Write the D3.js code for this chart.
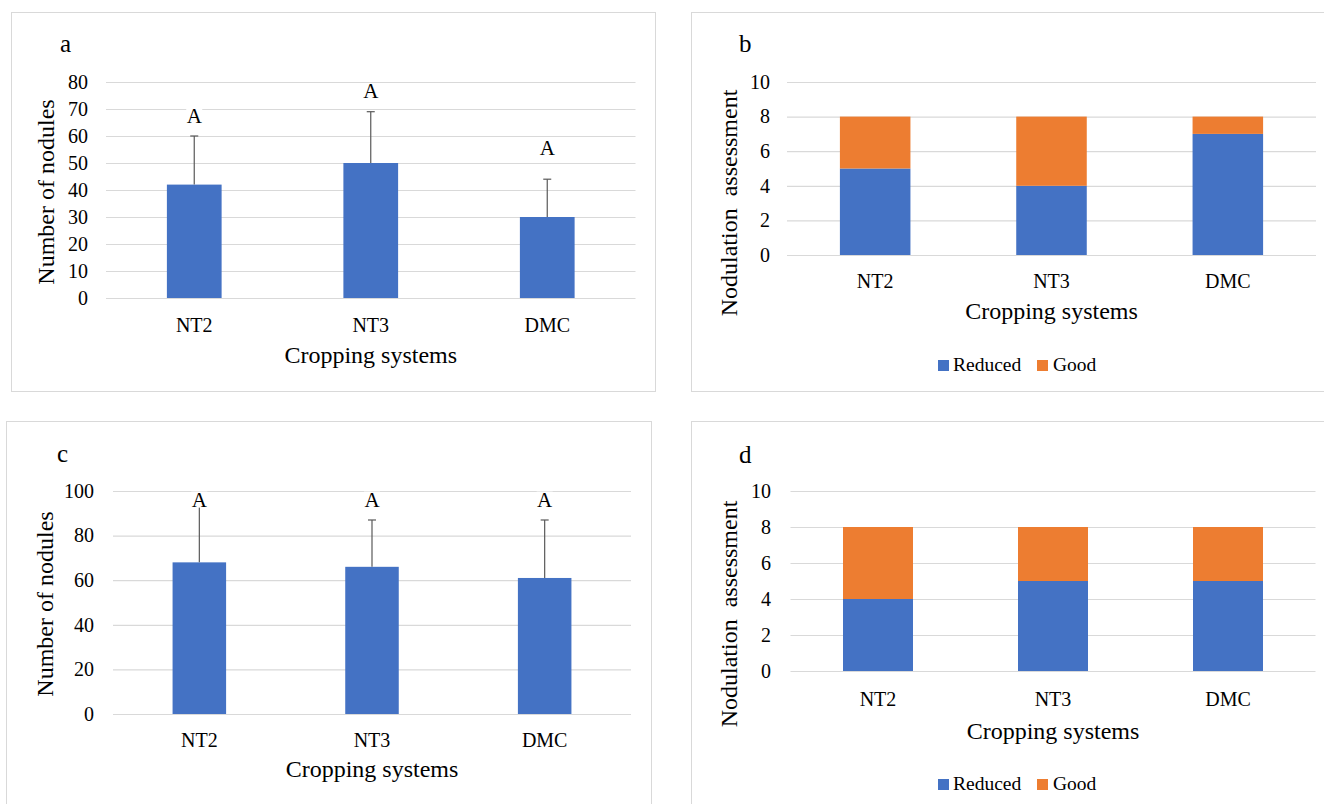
<!DOCTYPE html>
<html>
<head>
<meta charset="utf-8">
<script src="https://cdn.jsdelivr.net/npm/d3@7"></script>
<style>
    body { margin: 0; background: #fff; }
    svg { display: block; }
    svg text { font-family: "Liberation Serif", "DejaVu Serif", serif; fill: #000; }
</style>
</head>
<body>
<svg width="1324" height="804"></svg>
<script>
// Data
const categories = ["NT2", "NT3", "DMC"];

// a: number of nodules (first season)
const nodulesA = [42, 50, 30];
const errorA = [18, 19, 14];
const lettersA = ["A", "A", "A"];
const letterAtA = [65, 74, 53];
const ticksA = [0, 10, 20, 30, 40, 50, 60, 70, 80];

// b: nodulation assessment (first season)
const reducedB = [5, 4, 7];
const goodB = [3, 4, 1];
const ticksB = [0, 2, 4, 6, 8, 10];

// c: number of nodules (second season)
const nodulesC = [68, 66, 61];
const errorC = [26, 21, 26];
const lettersC = ["A", "A", "A"];
const letterAtC = [93, 93, 93];
const ticksC = [0, 20, 40, 60, 80, 100];

// d: nodulation assessment (second season)
const reducedD = [4, 5, 5];
const goodD = [4, 3, 3];
const ticksD = [0, 2, 4, 6, 8, 10];

const blue = "#4472c4";
const orange = "#ed7d31";
const grid = "#d9d9d9";
const serif = "Liberation Serif, DejaVu Serif, serif";

const svg = d3.select("svg").attr("font-family", serif);

// Panel frames
const frames = [
    [11, 12, 644, 379],
    [691, 12, 700, 379],
    [6, 421, 645, 420],
    [691, 421, 700, 420]
];
svg.selectAll("rect.frame")
    .data(frames)
    .enter()
    .append("rect")
    .attr("class", "frame")
    .attr("x", d => d[0] + 0.5)
    .attr("y", d => d[1] + 0.5)
    .attr("width", d => d[2])
    .attr("height", d => d[3])
    .attr("fill", "none")
    .attr("stroke", grid);

// Common axes + labels for one panel
const drawFrame = (p) => {
    const g = svg.append("g").attr("font-family", serif);
    const x = d3.scaleBand().domain(categories).range([p.left, p.right]);
    const y = d3.scaleLinear().domain([0, p.max]).range([p.bottom, p.top]);

    // gridlines
    g.append("g")
        .attr("transform", `translate(${p.left},0)`)
        .call(d3.axisLeft(y).tickValues(p.ticks).tickSize(-(p.right - p.left)).tickFormat(""))
        .call(a => a.select(".domain").remove())
        .call(a => a.selectAll("line").attr("stroke", grid).attr("stroke-width", 1.2));

    // y tick labels
    g.selectAll("text.ytick")
        .data(p.ticks)
        .enter()
        .append("text")
        .attr("x", p.tickRight)
        .attr("y", d => y(d))
        .attr("dy", "0.34em")
        .attr("text-anchor", "end")
        .attr("font-size", 20)
        .text(d => d);

    // x tick labels
    g.selectAll("text.xtick")
        .data(categories)
        .enter()
        .append("text")
        .attr("x", d => x(d) + x.bandwidth() / 2)
        .attr("y", p.xTickY)
        .attr("text-anchor", "middle")
        .attr("font-size", 20)
        .text(d => d);

    g.append("text")
        .attr("x", (p.left + p.right) / 2)
        .attr("y", p.xTitleY)
        .attr("text-anchor", "middle")
        .attr("font-size", 24)
        .text("Cropping systems");

    g.append("text")
        .attr("transform", `translate(${p.yTitleX},${p.yTitleY}) rotate(-90)`)
        .attr("text-anchor", "middle")
        .attr("font-size", 24)
        .attr("xml:space", "preserve")
        .style("white-space", "pre")
        .text(p.yTitle);

    g.append("text")
        .attr("x", p.letterX)
        .attr("y", p.letterY)
        .attr("font-size", 25)
        .text(p.letter);

    return { g, x, y };
};

const drawMeans = (p, means, errs, letters, letterAt) => {
    const { g, x, y } = drawFrame(p);
    const w = x.step() * p.barRatio;
    const cx = d => x(d) + x.bandwidth() / 2;

    g.selectAll("rect.bar")
        .data(categories)
        .enter()
        .append("rect")
        .attr("x", d => cx(d) - w / 2)
        .attr("y", (d, i) => y(means[i]))
        .attr("width", w)
        .attr("height", (d, i) => y(0) - y(means[i]))
        .attr("fill", blue);

    const eb = g.selectAll("g.err")
        .data(categories)
        .enter()
        .append("g")
        .attr("stroke", "#595959")
        .attr("stroke-width", 1.2);
    eb.append("line")
        .attr("x1", d => cx(d)).attr("x2", d => cx(d))
        .attr("y1", (d, i) => y(means[i]))
        .attr("y2", (d, i) => y(means[i] + errs[i]));
    eb.append("line")
        .attr("x1", d => cx(d) - 4).attr("x2", d => cx(d) + 4)
        .attr("y1", (d, i) => y(means[i] + errs[i]))
        .attr("y2", (d, i) => y(means[i] + errs[i]));

    // significance letters with white label background
    g.selectAll("rect.lbg")
        .data(categories)
        .enter()
        .append("rect")
        .attr("x", d => cx(d) - 8)
        .attr("y", (d, i) => y(letterAt[i]) - 15)
        .attr("width", 16)
        .attr("height", 16)
        .attr("fill", "#fff");
    g.selectAll("text.letter")
        .data(categories)
        .enter()
        .append("text")
        .attr("x", d => cx(d))
        .attr("y", (d, i) => y(letterAt[i]))
        .attr("text-anchor", "middle")
        .attr("font-size", 21)
        .text((d, i) => letters[i]);
};

const drawStack = (p, reduced, good) => {
    const { g, x, y } = drawFrame(p);
    const w = x.step() * p.barRatio;
    const rows = categories.map((c, i) => ({ cat: c, Reduced: reduced[i], Good: good[i] }));
    const series = d3.stack().keys(["Reduced", "Good"])(rows);
    const color = d3.scaleOrdinal().domain(["Reduced", "Good"]).range([blue, orange]);

    g.selectAll("g.series")
        .data(series)
        .enter()
        .append("g")
        .attr("fill", s => color(s.key))
        .selectAll("rect")
        .data(s => s)
        .enter()
        .append("rect")
        .attr("x", d => x(d.data.cat) + x.bandwidth() / 2 - w / 2)
        .attr("y", d => y(d[1]))
        .attr("width", w)
        .attr("height", d => y(d[0]) - y(d[1]));

    // legend
    const items = [
        { key: "Reduced", sx: 938, tx: 953 },
        { key: "Good", sx: 1037, tx: 1053 }
    ];
    const lg = g.selectAll("g.legend")
        .data(items)
        .enter()
        .append("g");
    lg.append("rect")
        .attr("x", d => d.sx)
        .attr("y", p.legendY - 10)
        .attr("width", 11)
        .attr("height", 11)
        .attr("fill", d => color(d.key));
    lg.append("text")
        .attr("x", d => d.tx)
        .attr("y", p.legendY + 1)
        .attr("font-size", 19.5)
        .text(d => d.key);
};

drawMeans({
    left: 106, right: 635.5, top: 82, bottom: 298, max: 80, ticks: ticksA,
    barRatio: 0.31, tickRight: 88, xTickY: 332, xTitleY: 363,
    yTitle: "Number of nodules", yTitleX: 54, yTitleY: 192,
    letter: "a", letterX: 60, letterY: 52
}, nodulesA, errorA, lettersA, letterAtA);

drawStack({
    left: 787, right: 1316, top: 82, bottom: 255, max: 10, ticks: ticksB,
    barRatio: 0.40, tickRight: 770, xTickY: 288, xTitleY: 319,
    yTitle: "Nodulation  assessment", yTitleX: 737, yTitleY: 203,
    letter: "b", letterX: 739, letterY: 52, legendY: 370
}, reducedB, goodB);

drawMeans({
    left: 113, right: 631, top: 491, bottom: 714, max: 100, ticks: ticksC,
    barRatio: 0.31, tickRight: 94, xTickY: 747, xTitleY: 777,
    yTitle: "Number of nodules", yTitleX: 53, yTitleY: 604,
    letter: "c", letterX: 57, letterY: 462
}, nodulesC, errorC, lettersC, letterAtC);

drawStack({
    left: 790.5, right: 1315.5, top: 491, bottom: 671, max: 10, ticks: ticksD,
    barRatio: 0.40, tickRight: 771, xTickY: 706, xTitleY: 739,
    yTitle: "Nodulation  assessment", yTitleX: 737, yTitleY: 614,
    letter: "d", letterX: 739, letterY: 463, legendY: 789
}, reducedD, goodD);
</script>
</body>
</html>
